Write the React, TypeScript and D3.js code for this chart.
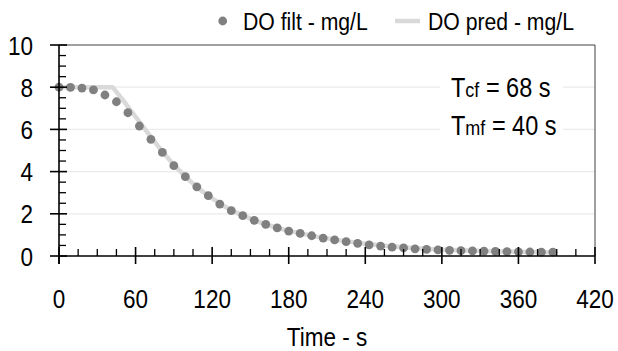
import React from "react";
import * as d3 from "d3";

const filtTime = [0, 9, 18, 27, 36, 45, 54, 63, 72, 81, 90, 99, 108, 117, 126, 135, 144, 153, 162, 171, 180, 189, 198, 207, 216, 225, 234, 243, 252, 261, 270, 279, 288, 297, 306, 315, 324, 333, 342, 351, 360, 369, 378, 387];
const filtDO = [8.0, 7.99, 7.96, 7.87, 7.63, 7.31, 6.79, 6.16, 5.53, 4.91, 4.28, 3.76, 3.28, 2.86, 2.46, 2.15, 1.91, 1.69, 1.5, 1.33, 1.18, 1.07, 0.96, 0.85, 0.76, 0.68, 0.6, 0.53, 0.47, 0.42, 0.38, 0.34, 0.31, 0.29, 0.27, 0.25, 0.24, 0.23, 0.22, 0.21, 0.2, 0.19, 0.18, 0.18];

const predTime = [0, 42, 50, 60, 70, 80, 90, 100, 110, 120, 130, 140, 150, 160, 170, 180, 200, 220, 240, 260, 280, 300, 320, 340, 360, 380, 390];
const predDO = [8, 8, 7.4, 6.6, 5.8, 5.02, 4.32, 3.7, 3.17, 2.73, 2.34, 2.03, 1.77, 1.54, 1.35, 1.19, 0.94, 0.74, 0.58, 0.46, 0.37, 0.3, 0.26, 0.22, 0.2, 0.18, 0.17];

const xTicks = [0, 60, 120, 180, 240, 300, 360, 420];
const yTicks = [0, 2, 4, 6, 8, 10];
const xMinorStep = 15;
const yMinorStep = 0.5;

const legendLabels = ["DO filt - mg/L", "DO pred - mg/L"];
const xTitle = "Time - s";

const FONT = "'Liberation Sans', Arial, sans-serif";
const SY = 1.16;

function T({ x, y, size, anchor = "start", children }: { x: number; y: number; size: number; anchor?: string; children: React.ReactNode }) {
  return (
    <g transform={`translate(${x},${y}) scale(1,${SY})`}>
      <text x={0} y={0} fontSize={size} textAnchor={anchor} fill="#000">
        {children}
      </text>
    </g>
  );
}

export default function App() {
  const W = 618;
  const H = 351;
  const left = 59, right = 595, top = 45, bottom = 256;
  const x = d3.scaleLinear().domain([0, 420]).range([left, right]);
  const y = d3.scaleLinear().domain([0, 10]).range([bottom, top]);

  const xMinor = d3.range(0, 420 + 0.001, xMinorStep).filter((v) => v % 60 !== 0);
  const yMinor = d3.range(0, 10 + 0.001, yMinorStep).filter((v) => Math.abs(v % 2) > 1e-6);

  const line = d3
    .line<number>()
    .x((_, i) => x(predTime[i]))
    .y((d) => y(d));

  const dotColor = "#808080";
  const predColor = "#d9d9d9";
  const gridColor = "#ebebeb";
  const fs = 22.5;

  return (
    <svg width={W} height={H} style={{ position: "absolute", left: 0, top: 0, background: "#fff" }} fontFamily={FONT}>
      <rect x={0} y={0} width={W} height={H} fill="#fff" />
      {yTicks.filter((v) => v !== 0 && v !== 10).map((v) => (
        <line key={"g" + v} x1={left} x2={right} y1={y(v)} y2={y(v)} stroke={gridColor} strokeWidth={1.2} />
      ))}
      <line x1={left} x2={right} y1={top} y2={top} stroke="#404040" strokeWidth={1} />
      <line x1={right} x2={right} y1={top} y2={bottom} stroke="#404040" strokeWidth={1} />

      <rect x={440} y={62} width={123} height={84} fill="#fff" />
      <T x={451} y={96.5} size={23.5}>
        T<tspan fontSize={18}>cf</tspan> = 68 s
      </T>
      <T x={451} y={135} size={23.5}>
        T<tspan fontSize={18}>mf</tspan> = 40 s
      </T>

      <path d={line(predDO) || ""} fill="none" stroke={predColor} strokeWidth={4.5} strokeLinejoin="round" />
      {filtDO.map((v, i) => (
        <circle key={"d" + i} cx={x(filtTime[i])} cy={y(v)} r={4.4} fill={dotColor} />
      ))}

      <line x1={left} x2={right} y1={bottom} y2={bottom} stroke="#000" strokeWidth={1.6} />
      <line x1={left} x2={left} y1={top} y2={bottom + 8} stroke="#000" strokeWidth={1.6} />
      {xTicks.map((v) => (
        <line key={"xt" + v} x1={x(v)} x2={x(v)} y1={bottom - 9} y2={bottom + 8} stroke="#000" strokeWidth={1.6} />
      ))}
      {xMinor.map((v) => (
        <line key={"xm" + v} x1={x(v)} x2={x(v)} y1={bottom - 7} y2={bottom} stroke="#000" strokeWidth={1.3} />
      ))}
      {yTicks.map((v) => (
        <line key={"yt" + v} x1={left - 9} x2={left + 8} y1={y(v)} y2={y(v)} stroke="#000" strokeWidth={1.6} />
      ))}
      {yMinor.map((v) => (
        <line key={"ym" + v} x1={left} x2={left + 7} y1={y(v)} y2={y(v)} stroke="#000" strokeWidth={1.3} />
      ))}

      {xTicks.map((v) => (
        <T key={"xl" + v} x={x(v)} y={308} size={fs} anchor="middle">
          {v}
        </T>
      ))}
      {yTicks.map((v) => (
        <T key={"yl" + v} x={33} y={y(v) + 9.5} size={fs} anchor="end">
          {v}
        </T>
      ))}
      <T x={(left + right) / 2} y={346} size={fs} anchor="middle">
        {xTitle}
      </T>

      <circle cx={222.7} cy={21} r={4.4} fill={dotColor} />
      <T x={243} y={30} size={21.2}>
        {legendLabels[0]}
      </T>
      <line x1={395} x2={420} y1={21} y2={21} stroke={predColor} strokeWidth={4.5} />
      <T x={428} y={30} size={21.2}>
        {legendLabels[1]}
      </T>
    </svg>
  );
}
